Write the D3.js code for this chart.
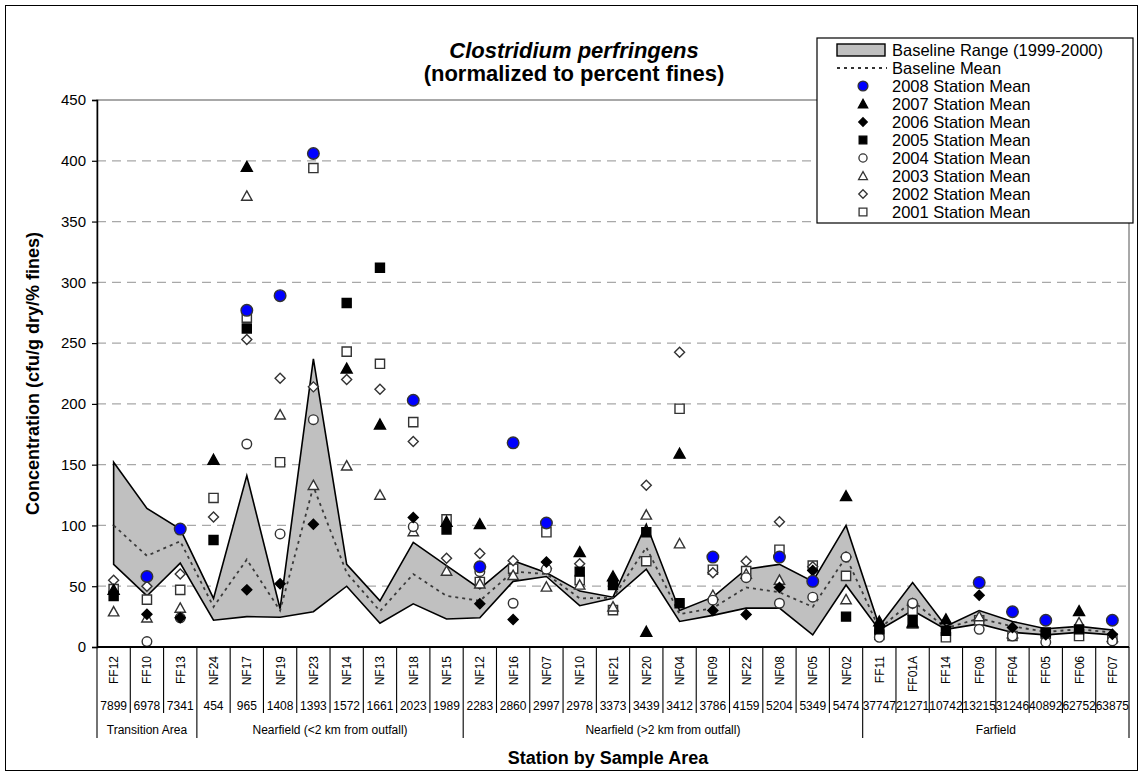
<!DOCTYPE html>
<html>
<head>
<meta charset="utf-8">
<script src="https://cdn.jsdelivr.net/npm/d3@7"></script>
<style>
  html, body { margin: 0; padding: 0; background: #fff; }
  svg { display: block; font-family: "Liberation Sans", Arial, sans-serif; }
</style>
</head>
<body>
<svg id="chart" width="1143" height="774"></svg>
<script>
// Stations along the x axis, grouped by sample area
const stations = ["FF12","FF10","FF13","NF24","NF17","NF19","NF23","NF14","NF13","NF18","NF15",
  "NF12","NF16","NF07","NF10","NF21","NF20","NF04","NF09","NF22","NF08","NF05","NF02",
  "FF11","FF01A","FF14","FF09","FF04","FF05","FF06","FF07"];
const distances = ["7899","6978","7341","454","965","1408","1393","1572","1661","2023","1989",
  "2283","2860","2997","2978","3373","3439","3412","3786","4159","5204","5349","5474",
  "37747","21271","10742","13215","31246","40892","62752","63875"];
const groupNames = ["Transition Area","Nearfield (<2 km from outfall)","Nearfield (>2 km from outfall)","Farfield"];
const groupSizes = [3, 8, 12, 8];
const yTicks = [0,50,100,150,200,250,300,350,400,450];

// Baseline (1999-2000) range and mean
const baseMax  = [152,114,97,40,141,31.5,237,68,38,86,67,48,71,61,46,41,101,30,41,64,68,54,100,17,53,17,30,21,15,17,14];
const baseMin  = [68,42,69,22,25,24.5,29,50,19.5,35.5,23,24,54,58,34,40,64,21,26,32,32,10,51,14,30,14.5,19,12,10,12,10];
const baseMean = [100,75,87,33,72,30,132,61,29.5,60,42,38,62,60,40,40.5,82,27,32,49,45,33,74,15,38,15.5,23.5,17,12.5,14.5,12];

// Station means by year (null = not sampled)
const y2008 = [null,58,97,null,277,289,406,null,null,203,null,66,168,102,null,null,null,null,74,null,74,54,null,null,null,null,53,29,22,null,22];
const y2007 = [47,null,null,154,395,null,null,229,183,null,103,101,null,null,78,58,12.5,159,null,null,null,null,124,21,20,22.7,null,null,null,29.5,null];
const y2006 = [null,27,24,null,47,52,101,null,null,106.5,null,35.5,22.6,70,null,null,null,null,30,26.7,49,63,null,null,null,null,42.6,16,10,null,10.4];
const y2005 = [42,null,null,88,262,null,null,283,312,null,96.7,null,null,null,62,51,94.4,36,null,null,null,null,25,14.5,22,13.4,null,null,12,14.5,null];
const y2004 = [null,4.5,24,null,167,93,187,null,null,99,null,62,36,64,null,null,null,null,38.5,57,36,41,74,8,36,null,14.5,9,4,null,5];
const y2003 = [29,24,32,null,371,191,133,149,125,95,62.5,52,59,49.4,51,33,108.6,85,42.5,60,55,null,39,null,19,null,25,11,null,20,8];
const y2002 = [55,50,60,107,253,221,214,220,212,169,73,77,71,64.5,68.5,null,133,242.5,61,70.6,103,66,74,null,35.8,null,null,null,null,null,null];
const y2001 = [47.6,39,47,122.6,271,152,394,243,233,185,105,53.5,64.4,94.4,55,30.3,70.6,196,63.6,62.5,80,67,58.5,10,30,8,22,9,11,9,7];

const svg = d3.select("#chart");
const W = 1143, H = 774;
const plot = { left: 97, right: 1129, top: 100, bottom: 647 };

const x = d3.scaleBand().domain(stations).range([plot.left, plot.right]);
const y = d3.scaleLinear().domain([0, 450]).range([plot.bottom, plot.top]);
const cx = s => x(s) + x.bandwidth() / 2;

// Outer frame
svg.append("rect").attr("x", 5.5).attr("y", 5.5).attr("width", W - 11).attr("height", H - 9)
  .attr("fill", "#fff").attr("stroke", "#000").attr("stroke-width", 1);

// Plot frame (top and right in gray)
svg.append("rect").attr("x", plot.left).attr("y", plot.top)
  .attr("width", plot.right - plot.left).attr("height", plot.bottom - plot.top)
  .attr("fill", "none").attr("stroke", "#8c8c8c").attr("stroke-width", 1.5);

// Dashed gridlines
svg.append("g").selectAll("line").data(yTicks.filter(t => t > 0 && t < 450)).join("line")
  .attr("x1", plot.left).attr("x2", plot.right)
  .attr("y1", d => y(d)).attr("y2", d => y(d))
  .attr("stroke", "#a8a8a8").attr("stroke-width", 1.3).attr("stroke-dasharray", "9,6");

// Y axis
const yAxis = d3.axisLeft(y).tickValues(yTicks).tickSize(5).tickPadding(6);
const gy = svg.append("g").attr("transform", `translate(${plot.left},0)`).call(yAxis);
gy.select(".domain").attr("stroke", "#000").attr("stroke-width", 1.5);
gy.selectAll(".tick line").attr("stroke", "#000").attr("stroke-width", 1.2);
gy.selectAll(".tick text").attr("font-size", 15).attr("fill", "#000")
  .attr("font-family", "Liberation Sans, Arial, sans-serif");

// Baseline range band
const idx = d3.range(stations.length);
const band = d3.area().x(i => cx(stations[i])).y0(i => y(baseMin[i])).y1(i => y(baseMax[i]));
svg.append("path").datum(idx).attr("d", band)
  .attr("fill", "#c0c0c0").attr("stroke", "#000").attr("stroke-width", 1.6).attr("stroke-linejoin", "miter");

// Baseline mean
const meanLine = d3.line().x(i => cx(stations[i])).y(i => y(baseMean[i]));
svg.append("path").datum(idx).attr("d", meanLine)
  .attr("fill", "none").attr("stroke", "#3a3a3a").attr("stroke-width", 1.8).attr("stroke-dasharray", "3,4");

// Marker shapes
function shapePath(type, r) {
  switch (type) {
    case "square": return `M${-r},${-r}H${r}V${r}H${-r}Z`;
    case "diamond": return `M0,${-r}L${r},0L0,${r}L${-r},0Z`;
    case "triangle": return `M0,${-r}L${r},${r * 0.8}L${-r},${r * 0.8}Z`;
    case "circle": return `M${r},0A${r},${r} 0 1,1 ${-r},0A${r},${r} 0 1,1 ${r},0Z`;
  }
}
const series = [
  { label: "2008 Station Mean", values: y2008, shape: "circle",   r: 5.8, fill: "#0000ff", stroke: "#333" },
  { label: "2007 Station Mean", values: y2007, shape: "triangle", r: 5.5, fill: "#000",    stroke: "#000" },
  { label: "2006 Station Mean", values: y2006, shape: "diamond",  r: 5,   fill: "#000",    stroke: "#000" },
  { label: "2005 Station Mean", values: y2005, shape: "square",   r: 4.5, fill: "#000",    stroke: "#000" },
  { label: "2004 Station Mean", values: y2004, shape: "circle",   r: 4.8, fill: "#fff",    stroke: "#333" },
  { label: "2003 Station Mean", values: y2003, shape: "triangle", r: 5.2, fill: "#fff",    stroke: "#333" },
  { label: "2002 Station Mean", values: y2002, shape: "diamond",  r: 5,   fill: "#fff",    stroke: "#333" },
  { label: "2001 Station Mean", values: y2001, shape: "square",   r: 4.6, fill: "#fff",    stroke: "#333" }
];

// Oldest year drawn first so the newest sits on top
series.slice().reverse().forEach(s => {
  svg.append("g").selectAll("path")
    .data(idx.filter(i => s.values[i] != null)).join("path")
    .attr("transform", i => `translate(${cx(stations[i])},${y(s.values[i])})`)
    .attr("d", shapePath(s.shape, s.r))
    .attr("fill", s.fill).attr("stroke", s.stroke).attr("stroke-width", 1.4);
});

// X axis line
svg.append("line").attr("x1", plot.left).attr("x2", plot.right)
  .attr("y1", plot.bottom).attr("y2", plot.bottom).attr("stroke", "#000").attr("stroke-width", 1.8);

// Category dividers
const bounds = d3.range(stations.length + 1).map(i => plot.left + i * x.step());
const groupStarts = [0];
groupSizes.forEach((n, k) => groupStarts.push(groupStarts[k] + n));
svg.append("g").selectAll("line").data(d3.range(stations.length + 1)).join("line")
  .attr("x1", i => bounds[i]).attr("x2", i => bounds[i])
  .attr("y1", plot.bottom)
  .attr("y2", i => groupStarts.includes(i) ? 738 : 713)
  .attr("stroke", "#000").attr("stroke-width", 1.1);

// Station names (rotated) and distances
svg.append("g").selectAll("text").data(stations).join("text")
  .attr("transform", d => `translate(${cx(d) + 4.5},656) rotate(-90)`)
  .attr("text-anchor", "end").attr("font-size", 12).attr("fill", "#000")
  .text(d => d);
svg.append("g").selectAll("text").data(idx).join("text")
  .attr("x", i => cx(stations[i])).attr("y", 710)
  .attr("text-anchor", "middle").attr("font-size", 12).attr("fill", "#000")
  .text(i => distances[i]);

// Group labels
svg.append("g").selectAll("text").data(groupNames).join("text")
  .attr("x", (d, k) => (bounds[groupStarts[k]] + bounds[groupStarts[k + 1]]) / 2)
  .attr("y", 734).attr("text-anchor", "middle").attr("font-size", 12).attr("fill", "#000")
  .text(d => d);

// Axis titles
svg.append("text").attr("x", 608).attr("y", 764).attr("text-anchor", "middle")
  .attr("font-size", 18).attr("font-weight", "bold").text("Station by Sample Area");
svg.append("text").attr("transform", `translate(39,${(plot.top + plot.bottom) / 2}) rotate(-90)`)
  .attr("text-anchor", "middle").attr("font-size", 18).attr("font-weight", "bold")
  .text("Concentration (cfu/g dry/% fines)");

// Chart title
svg.append("text").attr("x", 574).attr("y", 58).attr("text-anchor", "middle")
  .attr("font-size", 22).attr("font-weight", "bold").attr("font-style", "italic")
  .text("Clostridium perfringens");
svg.append("text").attr("x", 574).attr("y", 81).attr("text-anchor", "middle")
  .attr("font-size", 22).attr("font-weight", "bold")
  .text("(normalized to percent fines)");

// Legend
const lg = svg.append("g").attr("transform", "translate(817,38)");
lg.append("rect").attr("width", 316).attr("height", 185).attr("fill", "#fff")
  .attr("stroke", "#000").attr("stroke-width", 1.2);
const rowY = k => 12 + k * 18;
lg.append("rect").attr("x", 20).attr("y", rowY(0) - 6).attr("width", 48).attr("height", 12)
  .attr("fill", "#c0c0c0").attr("stroke", "#000").attr("stroke-width", 1.4);
lg.append("text").attr("x", 75).attr("y", rowY(0)).attr("dy", "0.36em").attr("font-size", 16.5)
  .text("Baseline Range (1999-2000)");
lg.append("line").attr("x1", 20).attr("x2", 70).attr("y1", rowY(1)).attr("y2", rowY(1))
  .attr("stroke", "#333").attr("stroke-width", 1.8).attr("stroke-dasharray", "3,4");
lg.append("text").attr("x", 75).attr("y", rowY(1)).attr("dy", "0.36em").attr("font-size", 16.5)
  .text("Baseline Mean");
series.forEach((s, k) => {
  const yy = rowY(k + 2);
  lg.append("path").attr("transform", `translate(46,${yy})`)
    .attr("d", shapePath(s.shape, s.r * 0.85))
    .attr("fill", s.fill).attr("stroke", s.stroke).attr("stroke-width", 1.3);
  lg.append("text").attr("x", 75).attr("y", yy).attr("dy", "0.36em").attr("font-size", 16.5)
    .text(s.label);
});
</script>
</body>
</html>
